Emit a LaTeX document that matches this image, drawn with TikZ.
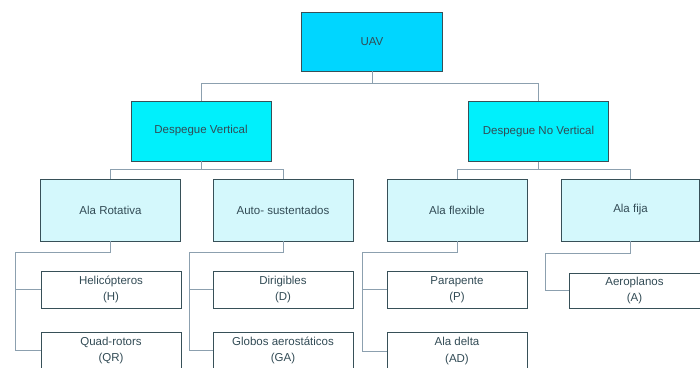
\documentclass[tikz,border=0pt]{standalone}
\usepackage{fontspec}
\setmainfont{Liberation Sans}
\definecolor{uavfill}{RGB}{0,214,255}
\definecolor{takeofffill}{RGB}{0,240,252}
\definecolor{wingfill}{RGB}{212,248,252}
\definecolor{boxline}{RGB}{55,80,88}
\definecolor{boxtext}{RGB}{50,75,85}
\definecolor{linkline}{RGB}{140,160,175}
\begin{document}
\begin{tikzpicture}[x=1pt,y=-1pt,
  box/.style={draw=boxline, line width=0.8pt, text=boxtext, font=\fontsize{11.5}{16.5}\selectfont, align=center, inner sep=0pt},
  rootbox/.style={box, fill=uavfill, minimum width=141pt, minimum height=59pt},
  takeoffbox/.style={box, fill=takeofffill, minimum width=140pt, minimum height=60pt},
  wingbox/.style={box, fill=wingfill, minimum width=140pt, minimum height=62pt},
  leafbox/.style={box, fill=white, minimum width=140pt, minimum height=37pt},
  link/.style={draw=linkline, line width=0.9pt}]
\path[use as bounding box, clip] (0,0) rectangle (700,367);

\node[rootbox] (uav) at (372,41.5) {UAV};
\node[takeoffbox] (dv) at (201,131) {Despegue Vertical};
\node[takeoffbox] (dnv) at (538.5,131.5) {Despegue No Vertical};

\node[wingbox] (rot) at (110.5,210) {Ala Rotativa};
\node[wingbox] (autos) at (283,210) {Auto- sustentados};
\node[wingbox] (flex) at (457,210) {Ala flexible};
\node[wingbox, minimum width=138pt] (fija) at (630.5,210) {Ala fija};

\node[leafbox] (heli) at (111,289.5) {Helicópteros\\(H)};
\node[leafbox] (quad) at (111,350.5) {Quad-rotors\\(QR)};
\node[leafbox] (diri) at (283,289.5) {Dirigibles\\(D)};
\node[leafbox] (glob) at (283,350.5) {Globos aerostáticos\\(GA)};
\node[leafbox] (para) at (457,289.5) {Parapente\\(P)};
\node[leafbox] (delta) at (457,351) {Ala delta\\(AD)};
\node[leafbox, minimum width=131pt, minimum height=35pt] (aero) at (634.5,290.5) {Aeroplanos\\(A)};

% tree links
\draw[link] (uav.south) -- ++(0,12) -| (dv.north);
\draw[link] (uav.south) -- ++(0,12) -| (dnv.north);
\draw[link] (dv.south) -- ++(0,8) -| (rot.north);
\draw[link] (dv.south) -- ++(0,8) -| (autos.north);
\draw[link] (dnv.south) -- ++(0,7.5) -| (flex.north);
\draw[link] (dnv.south) -- ++(0,7.5) -| (fija.north);

% side buses
\coordinate (rotbus) at (15,252);
\coordinate (autobus) at (189,252);
\coordinate (flexbus) at (362,252);
\coordinate (fijabus) at (545,253);
\draw[link] (rot.south) |- (rotbus) |- (heli.west);
\draw[link] (rotbus) |- (quad.west);
\draw[link] (autos.south) |- (autobus) |- (diri.west);
\draw[link] (autobus) |- (glob.west);
\draw[link] (flex.south) |- (flexbus) |- (para.west);
\draw[link] (flexbus) |- (delta.west);
\draw[link] (fija.south) |- (fijabus) |- (aero.west);
\end{tikzpicture}
\end{document}
